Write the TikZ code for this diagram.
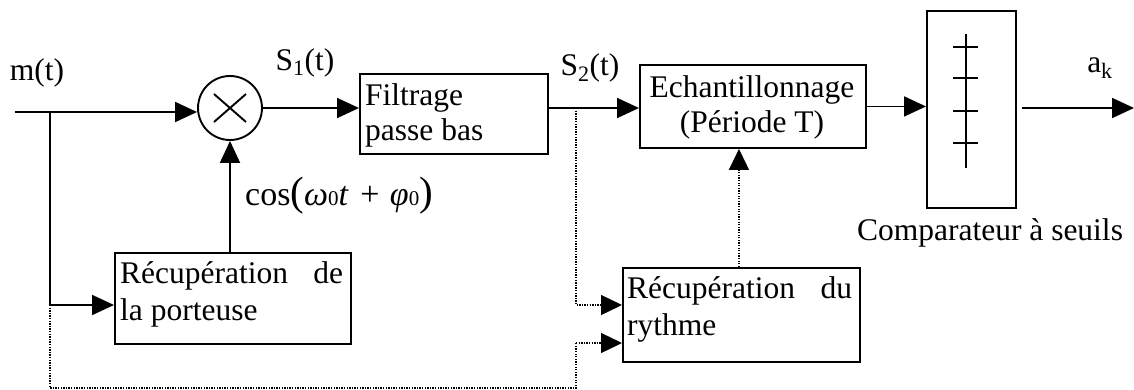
\documentclass[tikz,border=0pt]{standalone}
\usepackage{fontspec}
\setmainfont{Liberation Serif}
\usetikzlibrary{arrows.meta,calc}
\begin{document}
\begin{tikzpicture}[x=1pt,y=-1pt,
  every node/.style={font=\fontsize{31.5}{37}\selectfont, inner sep=0pt},
  box/.style={draw, line width=1.9pt, inner sep=0pt, anchor=north west},
  wire/.style={line width=1.9pt},
  arr/.style={wire, -{Triangle[length=22pt,width=20pt]}},
  dots/.style={line width=1.3pt, dash pattern=on 1.3pt off 1.3pt},
  darr/.style={dots, -{Triangle[length=21pt,width=20pt]}},
  lbl/.style={anchor=base west},
  clbl/.style={anchor=base},
]
\useasboundingbox (0,0) rectangle (1134,389);

% blocks
\node[box, minimum width=188pt, minimum height=80pt] (filt) at (359,73) {};
\node[box, minimum width=226pt, minimum height=83pt] (ech) at (639,64) {};
\node[box, minimum width=89pt, minimum height=197pt] (comp) at (926,10) {};
\node[box, minimum width=236pt, minimum height=91pt] (rp) at (114,252) {};
\node[box, minimum width=237pt, minimum height=94pt] (rr) at (622,267) {};
\node[draw, circle, line width=1.9pt, minimum size=64pt] (mul) at (230,108) {};
\draw[wire] ($(mul.center)+(-16,-14)$) -- ($(mul.center)+(16,14)$);
\draw[wire] ($(mul.center)+(-16,14)$) -- ($(mul.center)+(16,-14)$);

% comparator symbol
\draw[wire] (966,34) -- (966,168);
\foreach \yy in {47,78,111,143} { \draw[wire] (953,\yy) -- (978,\yy); }

% texts in blocks
\node[lbl] (tf1) at (365,105) {Filtrage};
\node[lbl] (tf2) at (365,140) {passe bas};
\node[clbl] (te1) at (752,97) {Echantillonnage};
\node[clbl] (te2) at (752,132) {(Période T)};
\node[lbl] (tp1) at (120,283) {\hbox to 223pt{Récupération\hfill de}};
\node[lbl] (tp2) at (120,320) {la porteuse};
\node[lbl] (tr1) at (627,298) {\hbox to 225pt{Récupération\hfill du}};
\node[lbl] (tr2) at (627,335) {rythme};

% signal labels
\node[clbl] (tm) at (37,80) {m(t)};
\node[clbl] (ts1) at (305,70) {S\textsubscript{1}(t)};
\node[clbl] (ts2) at (590,75) {S\textsubscript{2}(t)};
\node[clbl] (tak) at (1100,72) {a\textsubscript{k}};
\node[clbl] (tcmp) at (990,240) {Comparateur à seuils};
\node[lbl] (tcos) at (245,205) {\fontsize{34}{36}\selectfont cos{\fontsize{41}{41}\selectfont(}\textit{ω}{\fontsize{21}{21}\selectfont 0}\textit{t}\hspace{3pt} + \hspace{2pt}\textit{φ}{\fontsize{21}{21}\selectfont 0}{\fontsize{41}{41}\selectfont)}};

% coordinates
\coordinate (in) at (15,112);
\coordinate (br) at (50,112);
\coordinate (brd) at (50,305);
\coordinate (bot) at (50,388);
\coordinate (s2) at (576,108);
\coordinate (lo) at (576,343);
\coordinate (out) at (1134,108);

% connectors
\draw[arr] (in) -- (in -| mul.west);
\draw[wire] (br) -- (brd);
\draw[arr] (brd) -- (brd -| rp.west);
\draw[arr] (rp.north -| mul.south) -- (mul.south);
\draw[arr] (mul.east) -- (mul.east -| filt.west);
\draw[arr] (filt.east |- s2) -- (s2 -| ech.west);
\draw[darr] (s2) |- (rr.west |- brd);
\draw[dots] (brd) -- (bot) -| (lo);
\draw[darr] (lo) -- (lo -| rr.west);
\draw[darr] ([xshift=-2.5pt]rr.north) -- ([xshift=-2.5pt]rr.north |- ech.south);
\draw[arr] (ech.east) -- (ech.east -| comp.west);
\draw[arr] ([xshift=5pt]comp.east |- out) -- (out);
\end{tikzpicture}
\end{document}
